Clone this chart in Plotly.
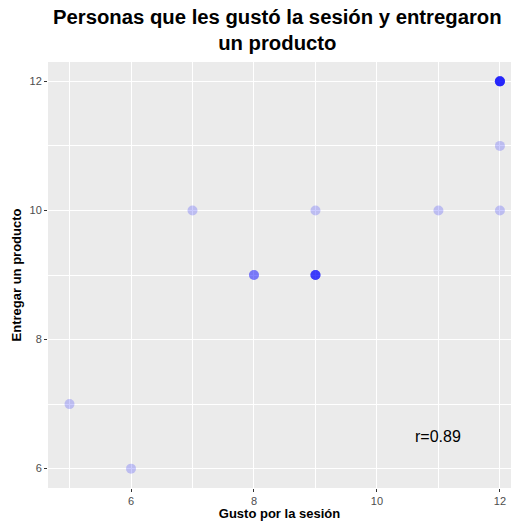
import plotly.graph_objects as go

gusto = [5, 6, 7, 8, 8, 8, 9, 9, 9, 9, 9, 9, 9, 11, 12, 12, 12, 12, 12, 12, 12, 12, 12, 12]
entregar = [7, 6, 10, 9, 9, 9, 10, 9, 9, 9, 9, 9, 9, 10, 12, 12, 12, 12, 12, 12, 12, 12, 11, 10]
x_ticks = [6, 8, 10, 12]
y_ticks = [6, 8, 10, 12]
r_label = "r=0.89"
title_text = "<b>Personas que les gustó la sesión y entregaron<br>un producto</b>"

fig = go.Figure()
for xv, yv in zip(gusto, entregar):
    fig.add_trace(go.Scatter(x=[xv], y=[yv], mode="markers",
                             marker=dict(size=10, color="blue", opacity=0.2, line=dict(width=0)),
                             showlegend=False, hoverinfo="skip", cliponaxis=True))

fig.add_annotation(x=10.99, y=6.5, text=r_label, showarrow=False,
                   font=dict(family="Liberation Sans, Arial", size=16, color="black"))

fig.add_annotation(xref="paper", yref="paper", x=0.495, y=1.015, xanchor="center", yanchor="bottom",
                   text=title_text, showarrow=False,
                   font=dict(family="Liberation Sans, Arial", size=20.3, color="black"))

axis_common = dict(showgrid=True, gridcolor="white", gridwidth=1.1, zeroline=False,
                   ticks="outside", ticklen=3, tickcolor="#333333", tickwidth=1,
                   tickfont=dict(family="Liberation Sans, Arial", size=11, color="#4d4d4d"),
                   minor=dict(dtick=1, showgrid=True, gridcolor="white", gridwidth=0.5, ticks=""),
                   showline=False, automargin=False)

fig.update_layout(
    width=511, height=521,
    margin=dict(l=48, r=0, t=62, b=33),
    paper_bgcolor="white", plot_bgcolor="#ebebeb",
    xaxis=dict(range=[4.65, 12.18], tickvals=x_ticks, ticktext=[str(t) for t in x_ticks],
               title=dict(text="<b>Gusto por la sesión</b>", standoff=2,
                          font=dict(family="Liberation Sans, Arial", size=13, color="black")),
               **axis_common),
    yaxis=dict(range=[5.7, 12.3], tickvals=y_ticks, ticktext=[str(t) for t in y_ticks],
               title=dict(text="<b>Entregar un producto</b>", standoff=4,
                          font=dict(family="Liberation Sans, Arial", size=13, color="black")),
               **axis_common),
)

fig.write_html("out.html", config={"displayModeBar": False},
               post_script="document.body.style.margin='0';document.body.style.overflow='hidden';")
